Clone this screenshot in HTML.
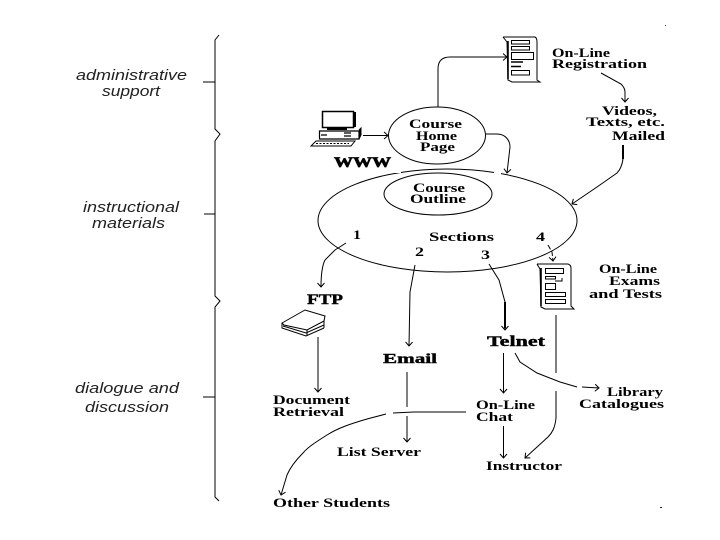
<!DOCTYPE html>
<html><head><meta charset="utf-8"><style>
html,body{margin:0;padding:0;background:#fff;width:720px;height:540px;overflow:hidden}
svg{display:block}
.s{font-family:"Liberation Serif",serif;font-weight:bold;font-size:12.5px;fill:#000}
.b{font-family:"Liberation Serif",serif;font-weight:bold;font-size:15px;fill:#000;stroke:#000;stroke-width:.4}
.i{font-family:"Liberation Sans",sans-serif;font-style:italic;font-size:14.5px;fill:#222}
.l{fill:none;stroke:#000;stroke-width:1}
.k{fill:none;stroke:#000;stroke-width:1}
</style></head><body>
<svg width="720" height="540" viewBox="0 0 720 540" xmlns="http://www.w3.org/2000/svg">
<defs><marker id="a" markerUnits="userSpaceOnUse" markerWidth="12" markerHeight="12" refX="9" refY="6" orient="auto"><path d="M5 2.500 L9 6 L5 9.500" fill="none" stroke="#000" stroke-width="1"/></marker></defs>
<rect width="720" height="540" fill="#fff"/>

<!-- brace -->
<path class="l" d="M219 35 L215 40 L215 129 L220 134 L215 141 L215 296 L220 301 L215 307 L215 497 L219 501"/>
<path class="l" d="M203 82H215M204 214H215M203 397H215"/>

<!-- left labels -->
<text class="i" x="76" y="80" textLength="111" lengthAdjust="spacingAndGlyphs">administrative</text>
<text class="i" x="102" y="96" textLength="58" lengthAdjust="spacingAndGlyphs">support</text>
<text class="i" x="83" y="212" textLength="96" lengthAdjust="spacingAndGlyphs">instructional</text>
<text class="i" x="92" y="228" textLength="73" lengthAdjust="spacingAndGlyphs">materials</text>
<text class="i" x="75" y="393" textLength="104" lengthAdjust="spacingAndGlyphs">dialogue and</text>
<text class="i" x="85" y="412" textLength="84" lengthAdjust="spacingAndGlyphs">discussion</text>

<!-- ellipses -->
<ellipse class="l" cx="447.500" cy="220.500" rx="129.500" ry="51.500"/>
<rect x="395" y="165" width="6" height="8" fill="#fff"/>
<rect x="494" y="169" width="7" height="6" fill="#fff"/>
<ellipse class="l" cx="437" cy="135.500" rx="48.500" ry="28.500"/>
<ellipse class="l" cx="438" cy="194" rx="54" ry="21" fill="#fff"/>

<!-- connectors -->
<path class="l" marker-end="url(#a)" d="M438 107V69Q438 57 450 57H507"/>
<path class="l" marker-end="url(#a)" d="M363 135.500H388"/>
<path class="l" marker-end="url(#a)" d="M486 134H497C505 134 510 140 510 147L507 173"/>
<path class="l" marker-end="url(#a)" d="M601 73L621 84Q625 88 625 92V102"/>
<path d="M623 145V159" stroke="#000" stroke-width="2" fill="none"/>
<path class="l" marker-end="url(#a)" d="M623 159C622 166 620 170 617 173L597 187L572 204"/>
<path class="l" marker-end="url(#a)" d="M346 243L335 250L325 260Q321 268 321 287"/>
<path class="l" marker-end="url(#a)" d="M415 265L410 292L409 346"/>
<path class="l" marker-end="url(#a)" d="M489 264L499 280L505 302V330"/>
<path d="M505 302V328" stroke="#000" stroke-width="2" fill="none"/>
<path class="l" marker-end="url(#a)" d="M548 245L552 252L553 261" stroke-dasharray="5 2"/>
<path class="l" marker-end="url(#a)" d="M318 337V392"/>
<path class="l" d="M407 372V407"/>
<path class="l" d="M393 413L414 412H466"/>
<path class="l" marker-end="url(#a)" d="M407 416V442"/>
<path class="l" marker-end="url(#a)" d="M386 414L367 419C350 424 338 428 327 435C316 442 308 447 303 453C295 461 290 468 287 475L281 495"/>
<path class="l" marker-end="url(#a)" d="M503.500 353V393"/>
<path class="l" marker-end="url(#a)" d="M503.500 426V458"/>
<path class="l" d="M515 353L520 362L537 373L560 382L577 387"/>
<path class="l" marker-end="url(#a)" d="M582 387L599 388"/>
<path class="l" d="M556 315V373"/>
<path class="l" marker-end="url(#a)" d="M556 391V418C555 428 552 433 548 437L525 458"/>

<!-- doc icon 1 -->
<path class="l" d="M503 37H535Q537 38 537 42V80L540 82H512L508 80L507 42L503 37"/>
<path d="M508 41V79" stroke="#000" stroke-width="1.600"/>
<g class="k"><rect x="511.500" y="40.500" width="18" height="3.500"/><rect x="511.500" y="46.500" width="18" height="3.500"/><rect x="511.500" y="52.500" width="22" height="7"/><rect x="511.500" y="70.500" width="18" height="4.500"/></g>
<path d="M511 62H523M511 66.500H521" stroke="#000" stroke-width="1.500"/>

<!-- doc icon 2 -->
<path class="l" d="M537 264H568Q571 265 571 268V306L574 309H545L541 307L540 269L537 264"/>
<path d="M541 268V306" stroke="#000" stroke-width="1.600"/>
<g class="k"><rect x="545.500" y="268.500" width="18" height="5"/><rect x="545.500" y="276.500" width="10" height="2.500"/><rect x="545.500" y="283.500" width="10" height="6"/><rect x="545.500" y="292.500" width="20" height="4"/><rect x="545.500" y="299.500" width="20" height="4"/></g>
<path d="M555 281H562V278" stroke="#000" fill="none"/>

<!-- computer -->
<rect x="322.500" y="111.500" width="31" height="16" fill="#fff" stroke="#000" stroke-width="1.500"/>
<path d="M355 112V127" stroke="#000" stroke-width="2"/>
<path d="M327 129H347" stroke="#000" stroke-width="2"/>
<path d="M319.500 131H359V139H319.500Z" fill="#fff" stroke="#000" stroke-width="1.200"/>
<path d="M359 130L361 128V135L359 139" fill="#000" stroke="#000"/>
<path d="M321 135H327M344 133H351M344 136H351" stroke="#000" stroke-width="1.300"/>
<path d="M316 141H355L351 146H311Z" fill="#fff" stroke="#000"/>
<path d="M316 143.500H349" stroke="#000" stroke-dasharray="2 1.500"/>

<!-- book -->
<path d="M282 323L305 310L325 316L324 321L307 330L284 325Z" fill="#fff" stroke="#000"/>
<path class="l" d="M282 323V328L306 336L324 328M324 321V328M283 326L306 333L324 325M307 330V336"/>

<!-- specks -->
<rect x="665" y="25" width="1" height="1" fill="#333"/>
<rect x="660" y="507" width="2" height="1" fill="#222"/>

<!-- labels -->
<g class="s">
<text x="552" y="57" textLength="58" lengthAdjust="spacingAndGlyphs">On-Line</text>
<text x="552" y="68" textLength="95" lengthAdjust="spacingAndGlyphs">Registration</text>
<text x="602" y="115" textLength="55" lengthAdjust="spacingAndGlyphs">Videos,</text>
<text x="586" y="126" textLength="79" lengthAdjust="spacingAndGlyphs">Texts, etc.</text>
<text x="612" y="140" textLength="53" lengthAdjust="spacingAndGlyphs">Mailed</text>
<text x="409" y="128" textLength="53" lengthAdjust="spacingAndGlyphs">Course</text>
<text x="416" y="140" textLength="41" lengthAdjust="spacingAndGlyphs">Home</text>
<text x="420" y="151" textLength="35" lengthAdjust="spacingAndGlyphs">Page</text>
<text x="413" y="192" textLength="52" lengthAdjust="spacingAndGlyphs">Course</text>
<text x="410" y="203" textLength="56" lengthAdjust="spacingAndGlyphs">Outline</text>
<text x="353" y="239" textLength="8" lengthAdjust="spacingAndGlyphs">1</text>
<text x="429" y="241" textLength="65" lengthAdjust="spacingAndGlyphs">Sections</text>
<text x="415" y="256" textLength="9" lengthAdjust="spacingAndGlyphs">2</text>
<text x="481" y="259" textLength="9" lengthAdjust="spacingAndGlyphs">3</text>
<text x="536" y="241" textLength="9" lengthAdjust="spacingAndGlyphs">4</text>
<text x="599" y="273" textLength="58" lengthAdjust="spacingAndGlyphs">On-Line</text>
<text x="609" y="285" textLength="51" lengthAdjust="spacingAndGlyphs">Exams</text>
<text x="589" y="298" textLength="73" lengthAdjust="spacingAndGlyphs">and Tests</text>
<text x="273" y="404" textLength="77" lengthAdjust="spacingAndGlyphs">Document</text>
<text x="273" y="416" textLength="71" lengthAdjust="spacingAndGlyphs">Retrieval</text>
<text x="337" y="456" textLength="84" lengthAdjust="spacingAndGlyphs">List Server</text>
<text x="273" y="507" textLength="117" lengthAdjust="spacingAndGlyphs">Other Students</text>
<text x="476" y="409" textLength="59" lengthAdjust="spacingAndGlyphs">On-Line</text>
<text x="476" y="421" textLength="37" lengthAdjust="spacingAndGlyphs">Chat</text>
<text x="607" y="396" textLength="56" lengthAdjust="spacingAndGlyphs">Library</text>
<text x="579" y="408" textLength="85" lengthAdjust="spacingAndGlyphs">Catalogues</text>
<text x="486" y="470" textLength="76" lengthAdjust="spacingAndGlyphs">Instructor</text>
</g>
<g class="b">
<text x="334" y="167" textLength="57" lengthAdjust="spacingAndGlyphs" stroke-width=".7">WWW</text>
<text x="307" y="304" textLength="36" lengthAdjust="spacingAndGlyphs">FTP</text>
<text x="487" y="346" textLength="58" lengthAdjust="spacingAndGlyphs">Telnet</text>
<text x="383" y="363" textLength="54" lengthAdjust="spacingAndGlyphs" style="font-size:14px">Email</text>
</g>
</svg>
</body></html>
